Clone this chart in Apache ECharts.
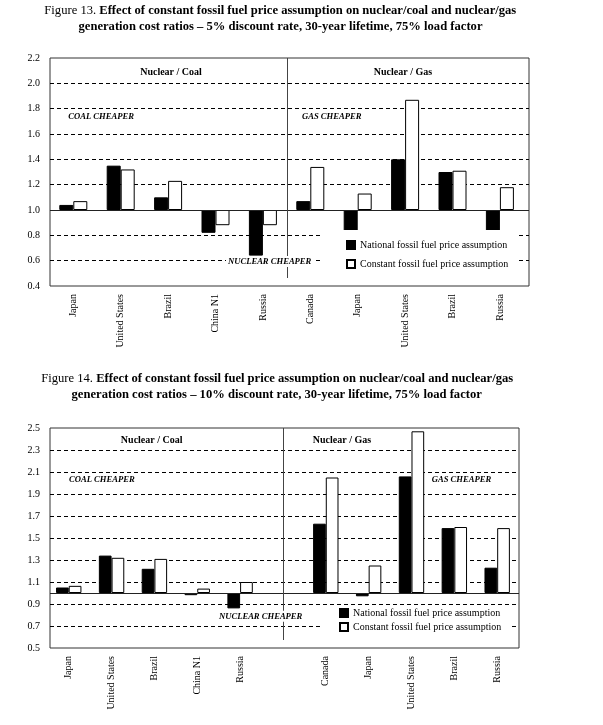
<!DOCTYPE html>
<html><head><meta charset="utf-8">
<script src="https://cdn.jsdelivr.net/npm/echarts@6/dist/echarts.min.js"></script>
<style>html,body{margin:0;padding:0;background:#fff}#c{width:603px;height:725px}</style>
</head><body><div id="c"></div>
<script>
// ---------- DATA ----------
const seriesNames = ['National fossil fuel price assumption', 'Constant fossil fuel price assumption'];

const categories1 = ['Japan','United States','Brazil','China N1','Russia','Canada','Japan','United States','Brazil','Russia'];
const national1 = [1.04, 1.35, 1.10, 0.82, 0.64, 1.07, 0.81, 1.40, 1.30, 0.83];
const constant1 = [1.07, 1.32, 1.23, 0.88, 0.88, 1.34, 1.13, 1.87, 1.31, 1.18];
const yMin1 = 0.4, yMax1 = 2.2, yStep1 = 0.2;

const categories2 = ['Japan','United States','Brazil','China N1','Russia','','Canada','Japan','United States','Brazil','Russia'];
const national2 = [1.05, 1.34, 1.22, 0.98, 0.86, null, 1.63, 0.97, 2.06, 1.59, 1.23];
const constant2 = [1.065, 1.32, 1.31, 1.04, 1.10, null, 2.05, 1.25, 2.47, 1.60, 1.59];
const yMin2 = 0.5, yMax2 = 2.5, yStep2 = 0.2;

const baseline = 1.0;

const title1a = 'Figure 13. ';
const title1b = 'Effect of constant fossil fuel price assumption on nuclear/coal and nuclear/gas';
const title1c = 'generation cost ratios \u2013 5% discount rate, 30-year lifetime, 75% load factor';
const title2a = 'Figure 14. ';
const title2b = 'Effect of constant fossil fuel price assumption on nuclear/coal and nuclear/gas';
const title2c = 'generation cost ratios \u2013 10% discount rate, 30-year lifetime, 75% load factor';

// ---------- LAYOUT ----------
const FF = '"Liberation Serif", "Times New Roman", serif';
const G1 = {left: 50, top: 58, width: 479, height: 228};       // frame chart 1
const B1 = {left: 49.6, top: 58, width: 474, height: 228};     // bars chart 1
const G2 = {left: 50, top: 428, width: 469, height: 220};      // frame chart 2
const B2 = {left: 47.3, top: 428, width: 471.3, height: 220};  // bars chart 2

const chart = echarts.init(document.getElementById('c'), null, {renderer: 'canvas'});

function frameY(gridIndex, yMin, yMax, step) {
  const n = Math.round((yMax - yMin) / step);
  return {
    gridIndex, type: 'value', min: 0, max: n, interval: 1,
    axisLine: {show: false}, axisTick: {show: false},
    axisLabel: {formatter: u => (yMin + step * u).toFixed(1), fontFamily: FF, fontSize: 10, color: '#000', margin: 10},
    splitLine: {show: true, showMinLine: false, showMaxLine: false, lineStyle: {color: '#000', type: [4, 3], width: 1}}
  };
}
function barY(gridIndex, yMin, yMax) {
  return {gridIndex, type: 'value', min: yMin - baseline, max: yMax - baseline, show: false, splitLine: {show: false}};
}
function catX(gridIndex, cats) {
  return {
    gridIndex, type: 'category', data: cats, boundaryGap: true,
    axisLine: {show: false}, axisTick: {show: false},
    axisLabel: {rotate: 90, interval: 0, fontFamily: FF, fontSize: 10, color: '#000', margin: 8}
  };
}
function bars(axisIndex, nat, con, width) {
  return [
    {name: seriesNames[0], type: 'bar', xAxisIndex: axisIndex, yAxisIndex: axisIndex,
     data: nat.map(v => v == null ? '-' : +(v - baseline).toFixed(4)), barWidth: width, barGap: '0%',
     itemStyle: {color: '#000', borderColor: '#000', borderWidth: 1}},
    {name: seriesNames[1], type: 'bar', xAxisIndex: axisIndex, yAxisIndex: axisIndex,
     data: con.map(v => v == null ? '-' : +(v - baseline).toFixed(4)), barWidth: width, barGap: '0%',
     itemStyle: {color: '#fff', borderColor: '#000', borderWidth: 1}}
  ];
}
function legend(left, top, padding, gap) {
  return {
    data: seriesNames, orient: 'vertical', left, top, padding, itemGap: gap,
    itemWidth: 8, itemHeight: 8, icon: 'rect', backgroundColor: '#fff', selectedMode: false,
    textStyle: {fontFamily: FF, fontSize: 10, color: '#000', lineHeight: 12}
  };
}

function txt(x, y, text, opts) {
  return Object.assign({type: 'text', x, y, z: 100, style: Object.assign({
    text, fill: '#000', fontFamily: FF, fontSize: 10, align: 'left', verticalAlign: 'middle',
    textAlign: 'left', textVerticalAlign: 'middle'}, opts || {})});
}
const TS = 12.6;
function titleLine1(x, y, a, b) {
  return {type: 'text', x, y, z: 100, style: {
    text: '{n|' + a + '}{b|' + b + '}', fill: '#000',
    align: 'center', verticalAlign: 'middle', textAlign: 'center', textVerticalAlign: 'middle',
    fontFamily: FF, fontSize: TS,
    rich: {n: {fontFamily: FF, fontSize: TS, fontWeight: 'normal', fill: '#000', color: '#000'},
           b: {fontFamily: FF, fontSize: TS, fontWeight: 'bold', fill: '#000', color: '#000'}}}};
}
function titleLine2(x, y, t) {
  return {type: 'text', x, y, z: 100, style: {text: t, fill: '#000', fontFamily: FF, fontSize: TS, fontWeight: 'bold',
    align: 'center', verticalAlign: 'middle', textAlign: 'center', textVerticalAlign: 'middle'}};
}
function vline(x, y1, y2) {
  return {type: 'line', z: 50, shape: {x1: x, y1, x2: x, y2}, style: {stroke: '#444', lineWidth: 1}};
}
function hline(x1, x2, y) {
  return {type: 'line', z: 50, shape: {x1, y1: y, x2, y2: y}, style: {stroke: '#222', lineWidth: 1}};
}

// baseline & divider positions derived from axis layout
const base1 = G1.top + G1.height * (yMax1 - baseline) / (yMax1 - yMin1);
const base2 = G2.top + G2.height * (yMax2 - baseline) / (yMax2 - yMin2);
const div1 = B1.left + B1.width * 5 / categories1.length;
const div2 = B2.left + B2.width * 5.5 / categories2.length;

const italicB = {fontStyle: 'italic', fontWeight: 'bold', fontSize: 8.6};
const boldT = {fontWeight: 'bold', fontSize: 10, align: 'center', textAlign: 'center'};
const bgWhite = {backgroundColor: '#fff', padding: [1, 2]};

const option = {
  animation: false,
  backgroundColor: '#fff',
  grid: [
    Object.assign({show: true, borderColor: '#333', borderWidth: 1, backgroundColor: 'transparent'}, G1),
    Object.assign({}, B1),
    Object.assign({show: true, borderColor: '#333', borderWidth: 1, backgroundColor: 'transparent'}, G2),
    Object.assign({}, B2)
  ],
  xAxis: [
    {gridIndex: 0, type: 'value', min: 0, max: 1, show: false},
    catX(1, categories1),
    {gridIndex: 2, type: 'value', min: 0, max: 1, show: false},
    catX(3, categories2)
  ],
  yAxis: [
    frameY(0, yMin1, yMax1, yStep1),
    barY(1, yMin1, yMax1),
    frameY(2, yMin2, yMax2, yStep2),
    barY(3, yMin2, yMax2)
  ],
  legend: [
    legend(323, 230, [9, 10, 6, 23], 7),
    legend(321, 606, [1, 10, 4, 18], 2)
  ],
  series: [].concat(bars(1, national1, constant1, 14), bars(3, national2, constant2, 12.7)),
  graphic: [
    titleLine1(280.3, 11, title1a, title1b),
    titleLine2(280.5, 26.7, title1c),
    titleLine1(277.2, 378.3, title2a, title2b),
    titleLine2(276.7, 394.3, title2c),
    hline(G1.left, G1.left + G1.width, Math.round(base1) + 0.5),
    hline(G2.left, G2.left + G2.width, Math.round(base2) + 0.5),
    vline(Math.round(div1) + 0.5, G1.top, G1.top + G1.height - 8),
    vline(Math.round(div2) + 0.5, G2.top, G2.top + G2.height - 8),
    txt(171, 72.7, 'Nuclear / Coal', boldT),
    txt(403, 72, 'Nuclear / Gas', boldT),
    txt(68.3, 116.7, 'COAL CHEAPER', italicB),
    txt(302, 116.7, 'GAS CHEAPER', italicB),
    txt(226, 261.5, 'NUCLEAR CHEAPER', Object.assign({}, italicB, bgWhite)),
    txt(151.7, 440.7, 'Nuclear / Coal', boldT),
    txt(342, 440.7, 'Nuclear / Gas', boldT),
    txt(69, 480, 'COAL CHEAPER', italicB),
    txt(431.7, 479.3, 'GAS CHEAPER', italicB),
    txt(217, 616.3, 'NUCLEAR CHEAPER', Object.assign({}, italicB, bgWhite))
  ]
};
chart.setOption(option);
</script>
</body></html>
